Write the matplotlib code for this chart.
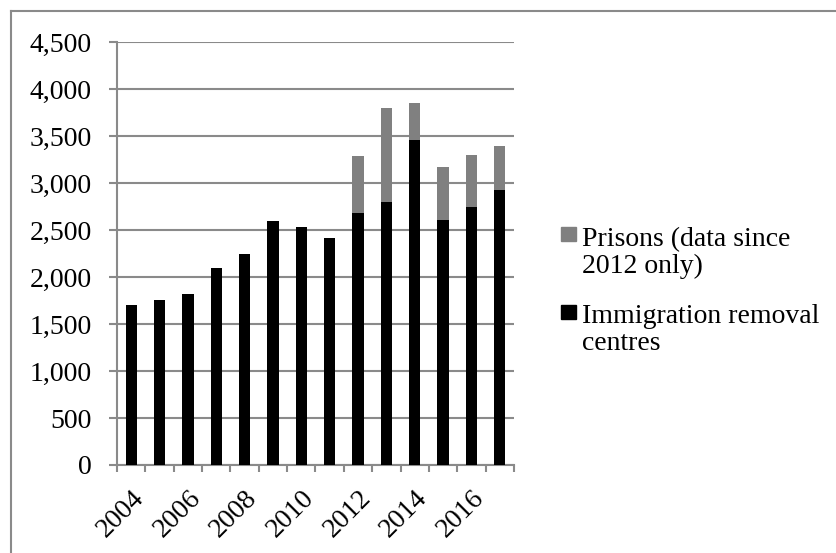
import numpy as np
import matplotlib.pyplot as plt
from matplotlib.lines import Line2D
from matplotlib.patches import Rectangle
from matplotlib.transforms import ScaledTranslation

# Data
years = list(range(2004, 2018))
irc = [1700, 1760, 1820, 2095, 2250, 2600, 2530, 2420, 2685, 2800, 3460, 2610, 2740, 2930]
prisons = [0, 0, 0, 0, 0, 0, 0, 0, 605, 1000, 395, 565, 560, 465]
tick_years = [2004, 2006, 2008, 2010, 2012, 2014, 2016]
legend_labels = ['Prisons (data since\n2012 only)', 'Immigration removal\ncentres']
legend_colors = ['#808080', 'black']

plt.rcParams['font.family'] = ['Liberation Serif', 'DejaVu Serif']
grey = '#8a8a8a'

fig = plt.figure(figsize=(8.37, 5.53), dpi=100)
ax = fig.add_axes([117 / 837, 1 - 465 / 553, (514 - 117) / 837, (465 - 42) / 553])

x = np.arange(len(years))
ax.bar(x, irc, width=0.4, color=legend_colors[1], zorder=3)
ax.bar(x, prisons, width=0.4, bottom=irc, color=legend_colors[0], zorder=3)

ax.set_xlim(-0.5, len(years) - 0.5)
ax.set_ylim(0, 4500)
ax.set_yticks(range(0, 4501, 500))
ax.set_yticklabels([f'{v:,}' for v in range(0, 4501, 500)], fontsize=20)
ax.yaxis.grid(True, color=grey, linewidth=1.5, zorder=0)

# x ticks: marks at category boundaries, labels at every other year
ax.set_xticks(np.arange(-0.5, len(years), 1.0))
ax.set_xticklabels([])
ax.set_xticks([years.index(y) for y in tick_years], minor=True)
ax.set_xticklabels([str(y) for y in tick_years], minor=True, rotation=45,
                   ha='right', rotation_mode='anchor', fontsize=20)
shift = ScaledTranslation(3 / 100, 0, fig.dpi_scale_trans)
for lab in ax.get_xticklabels(minor=True):
    lab.set_transform(lab.get_transform() + shift)
ax.tick_params(axis='x', which='minor', length=0, pad=15)
ax.tick_params(axis='x', which='major', length=5, width=1.5, color=grey)
ax.tick_params(axis='y', length=6, width=1.5, color=grey, pad=12)

for s in ['top', 'right']:
    ax.spines[s].set_visible(False)
for s in ['left', 'bottom']:
    ax.spines[s].set_color(grey)
    ax.spines[s].set_linewidth(1.5)

# legend drawn by hand so the swatch lines up with the first text line
W, H = 837, 553
for (lab, col, sq_top, base) in zip(legend_labels, legend_colors, [227, 305], [273, 350]):
    fig.add_artist(Rectangle((561 / W, 1 - (sq_top + 14) / H), 15 / W, 14 / H,
                             transform=fig.transFigure, color=col))
    fig.text(582 / W, 1 - base / H, lab, fontsize=20, va='baseline', ha='left',
             linespacing=1.1)

# outer chart frame (cut off at right and bottom)
fig.add_artist(Line2D([11 / W, 11 / W], [1 - 11 / H, 0], transform=fig.transFigure,
                      color=grey, linewidth=1.5))
fig.add_artist(Line2D([11 / W, 1], [1 - 11 / H, 1 - 11 / H], transform=fig.transFigure,
                      color=grey, linewidth=1.5))

fig.savefig('out.png', dpi=100)
